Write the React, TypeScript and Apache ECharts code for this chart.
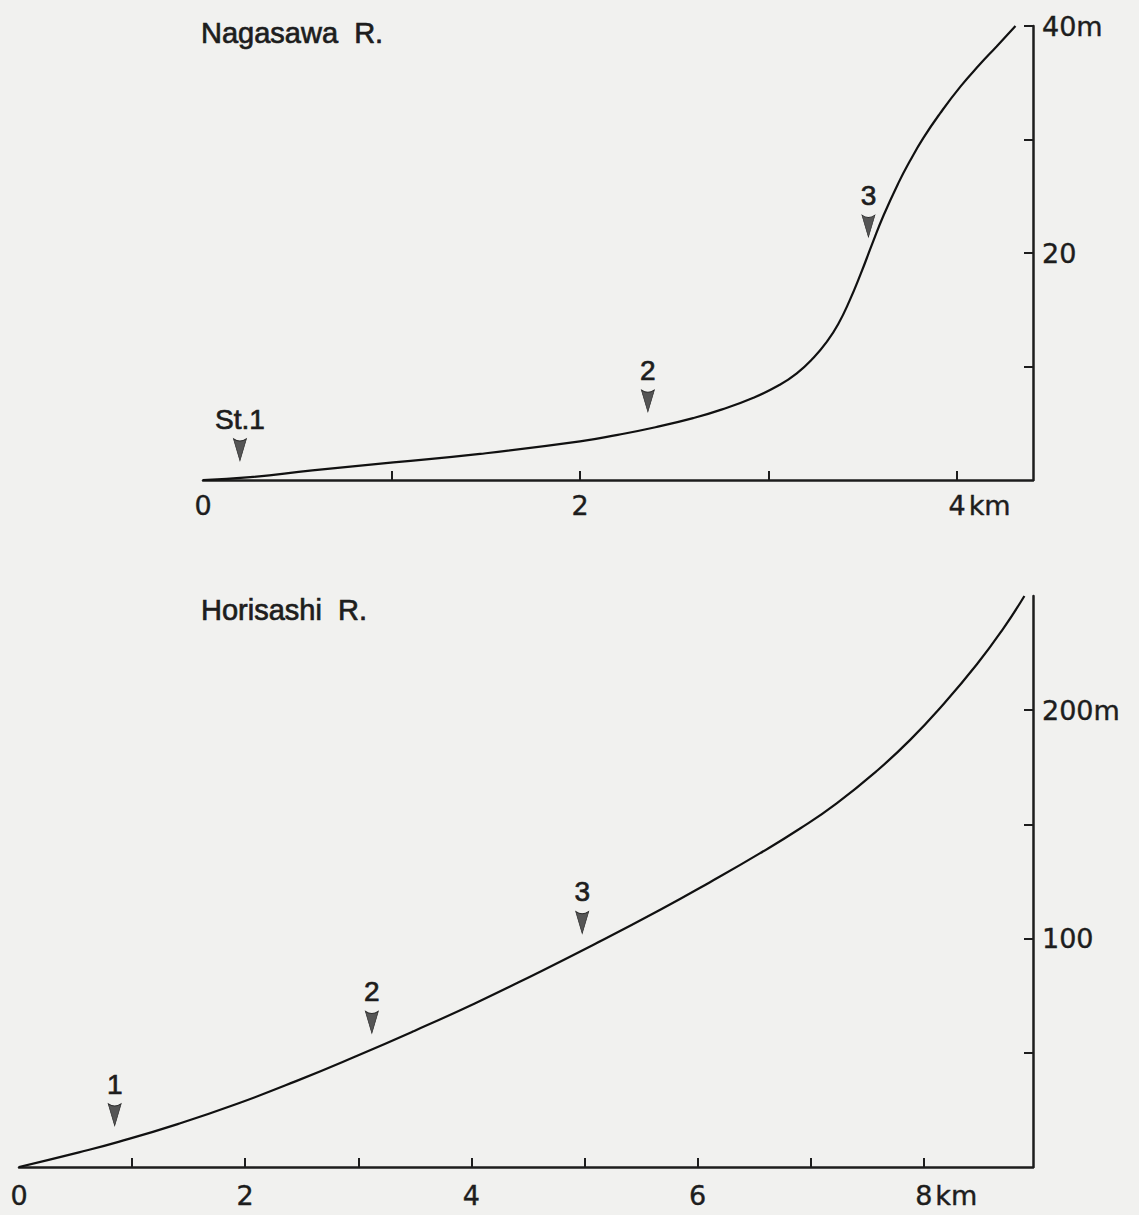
import React, { useEffect, useRef } from 'react';
import * as echarts from 'echarts';

// ---- Nagasawa R. (upper profile) ----
const nagasawaKm = [0, 0.25, 0.58, 1.01, 1.47, 2.0, 2.2, 2.4, 2.6, 2.75, 2.92, 3.05, 3.15, 3.24, 3.31, 3.37, 3.43, 3.49, 3.55, 3.61, 3.69, 3.75, 3.82, 3.91, 4.02, 4.12, 4.21, 4.31];
const nagasawaElev = [0, 0.25, 0.85, 1.55, 2.3, 3.4, 3.98, 4.65, 5.45, 6.2, 7.25, 8.3, 9.4, 10.8, 12.2, 13.75, 15.8, 18.2, 20.8, 23.3, 26.2, 28.1, 30.1, 32.3, 34.7, 36.6, 38.2, 40];
const nagasawaStations = ['St.1', '2', '3'];
const nagasawaStationKm = [0.196, 2.36, 3.53];
const nagasawaStationElev = [0.2, 4.5, 19.9];
const nagasawaXTicks = [1, 2, 3, 4];
const nagasawaXLabels = [0, 2, 4];
const nagasawaYTicks = [10, 20, 30, 40];
const nagasawaYLabels = [20, 40];

// ---- Horisashi R. (lower profile) ----
const horisashiKm = [0, 0.53, 0.88, 1.41, 1.93, 2.45, 2.98, 3.5, 4.03, 4.55, 5.08, 5.67, 6.11, 6.55, 6.91, 7.23, 7.58, 7.88, 8.17, 8.47, 8.7, 8.89];
const horisashiElev = [0, 6.4, 11.0, 18.9, 27.7, 37.6, 48.5, 59.7, 71.6, 84.1, 97.3, 112.6, 124.7, 137.3, 148.3, 159.2, 173.2, 187.0, 202.4, 220.1, 235.5, 250];
const horisashiStations = ['1', '2', '3'];
const horisashiStationKm = [0.846, 3.12, 4.98];
const horisashiStationElev = [10.6, 51.1, 94.8];
const horisashiXTicks = [1, 2, 3, 4, 5, 6, 7, 8];
const horisashiXLabels = [0, 2, 4, 6, 8];
const horisashiYTicks = [50, 100, 150, 200];
const horisashiYLabels = [100, 200];

const FONT = '"Liberation Sans", Arial, Helvetica, sans-serif';
const NUMFONT = '"DejaVu Sans", "Liberation Sans", sans-serif';
const INK = '#1d1d1d';
const ARROW = 'path://M0,0 Q7,5 14,0 L7,24 Z';

const textBase = {
  color: INK,
  fontFamily: FONT,
  fontSize: 28,
  textBorderColor: INK,
  textBorderWidth: 0.7,
};

const numBase = {
  color: INK,
  fontFamily: NUMFONT,
  fontSize: 27,
  textBorderColor: INK,
  textBorderWidth: 0.4,
};

function zip(a: number[], b: number[]) {
  return a.map((v, i) => [v, b[i]]);
}

function xAxis(gridIndex: number, max: number, ticks: number[], labels: number[], last: number, margin: number) {
  return {
    gridIndex,
    type: 'value',
    min: 0,
    max,
    axisLine: { show: true, onZero: false, lineStyle: { color: INK, width: 2.5 } },
    axisTick: { show: true, inside: true, length: 9, customValues: ticks, lineStyle: { color: INK, width: 2 } },
    axisLabel: {
      show: true,
      customValues: labels,
      margin,
      ...numBase,
      formatter: (v: number) => (v === last ? '{p| }' + v + '{u|km}' : String(v)),
      rich: {
        p: { width: 45, fontSize: 27, fontFamily: NUMFONT },
        u: { ...numBase, padding: [0, 0, 0, 3] },
      },
    },
    splitLine: { show: false },
  };
}

function yAxis(gridIndex: number, max: number, ticks: number[], labels: number[], last: number) {
  return {
    gridIndex,
    type: 'value',
    position: 'right',
    min: 0,
    max,
    axisLine: { show: true, onZero: false, lineStyle: { color: INK, width: 2.5 } },
    axisTick: { show: true, inside: true, length: 9, customValues: ticks, lineStyle: { color: INK, width: 2 } },
    axisLabel: {
      show: true,
      customValues: labels,
      margin: 9,
      ...numBase,
      formatter: (v: number) => (v === last ? v + 'm' : String(v)),
    },
    splitLine: { show: false },
  };
}

function stationSeries(idx: number, names: string[], km: number[], elev: number[]) {
  return {
    type: 'scatter',
    xAxisIndex: idx,
    yAxisIndex: idx,
    silent: true,
    data: names.map((n, i) => ({ name: n, value: [km[i], elev[i]] })),
    symbol: ARROW,
    symbolSize: [13, 22],
    symbolOffset: [0, -28],
    itemStyle: { color: '#555', borderColor: '#2a2a2a', borderWidth: 0.8, opacity: 1 },
    label: {
      show: true,
      position: 'top',
      distance: 5,
      formatter: '{b}',
      ...textBase,
    },
  };
}

function profileSeries(idx: number, km: number[], elev: number[]) {
  return {
    type: 'line',
    xAxisIndex: idx,
    yAxisIndex: idx,
    silent: true,
    data: zip(km, elev),
    smooth: 0.5,
    showSymbol: false,
    lineStyle: { color: '#111', width: 2.2 },
  };
}

export default function App() {
  const ref = useRef<HTMLDivElement>(null);
  useEffect(() => {
    document.body.style.margin = '0';
    const chart = echarts.init(ref.current!, null, { renderer: 'svg' });
    chart.setOption({
      animation: false,
      backgroundColor: '#f1f1ef',
      title: [
        { text: 'Nagasawa  R.', left: 201, top: 18, padding: 0, textStyle: { ...textBase, fontSize: 29, fontWeight: 'normal' } },
        { text: 'Horisashi  R.', left: 201, top: 595, padding: 0, textStyle: { ...textBase, fontSize: 29, fontWeight: 'normal' } },
      ],
      grid: [
        { left: 203, top: 26, width: 830, height: 454 },
        { left: 19, top: 596, width: 1014, height: 571 },
      ],
      xAxis: [
        xAxis(0, 4.403, nagasawaXTicks, nagasawaXLabels, 4, 12),
        xAxis(1, 8.966, horisashiXTicks, horisashiXLabels, 8, 15),
      ],
      yAxis: [
        yAxis(0, 40, nagasawaYTicks, nagasawaYLabels, 40),
        yAxis(1, 250, horisashiYTicks, horisashiYLabels, 200),
      ],
      series: [
        profileSeries(0, nagasawaKm, nagasawaElev),
        stationSeries(0, nagasawaStations, nagasawaStationKm, nagasawaStationElev),
        profileSeries(1, horisashiKm, horisashiElev),
        stationSeries(1, horisashiStations, horisashiStationKm, horisashiStationElev),
      ],
    });
    return () => chart.dispose();
  }, []);
  return <div ref={ref} style={{ width: 1139, height: 1215 }} />;
}
